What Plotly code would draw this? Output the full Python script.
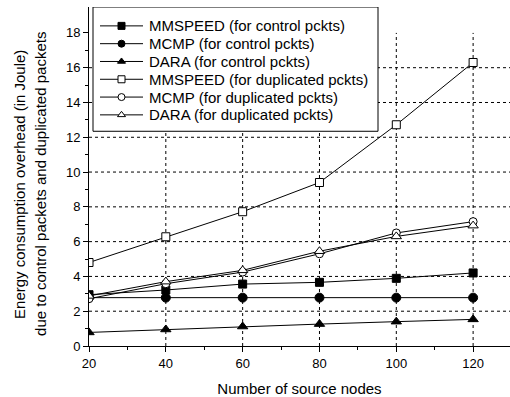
import plotly.graph_objects as go

x_nodes = [20, 40, 60, 80, 100, 120]
mmspeed_ctrl = [2.95, 3.22, 3.56, 3.66, 3.89, 4.2]
mcmp_ctrl = [2.78, 2.78, 2.78, 2.78, 2.78, 2.78]
dara_ctrl = [0.78, 0.95, 1.12, 1.26, 1.4, 1.53]
mmspeed_dup = [4.8, 6.28, 7.72, 9.4, 12.72, 16.3]
mcmp_dup = [2.72, 3.58, 4.25, 5.3, 6.5, 7.15]
dara_dup = [2.88, 3.7, 4.35, 5.45, 6.3, 6.92]

names = ["MMSPEED (for control pckts)", "MCMP (for control pckts)", "DARA (for control pckts)",
         "MMSPEED (for duplicated pckts)", "MCMP (for duplicated pckts)", "DARA (for duplicated pckts)"]
series = [mmspeed_ctrl, mcmp_ctrl, dara_ctrl, mmspeed_dup, mcmp_dup, dara_dup]
symbols = ["square", "circle", "triangle-up", "square", "circle", "triangle-up"]
fills = ["black", "black", "black", "white", "white", "white"]
sizes = [8, 9, 9, 8, 8, 9]

x_ticks = [20, 40, 60, 80, 100, 120]
y_ticks = [0, 2, 4, 6, 8, 10, 12, 14, 16, 18]
x_grid = [40, 60, 80, 100, 120]
y_grid = [2, 4, 6, 8, 10, 12, 14, 16]
x_max = 129.6
y_max = 19.49

fig = go.Figure()
for n, s, sym, f, sz in zip(names, series, symbols, fills, sizes):
    fig.add_trace(go.Scatter(
        x=x_nodes, y=s, name=n, mode="lines+markers", showlegend=False,
        line=dict(color="black", width=1),
        marker=dict(symbol=sym, size=sz, color=f, line=dict(color="black", width=1)),
    ))

shapes = []
for gx in x_grid:
    shapes.append(dict(type="line", xref="x", yref="y", x0=gx, x1=gx, y0=0, y1=18,
                       line=dict(color="black", width=1, dash="dot"), layer="below"))
for gy in y_grid:
    shapes.append(dict(type="line", xref="x", yref="y", x0=20, x1=x_max, y0=gy, y1=gy,
                       line=dict(color="black", width=1, dash="dot"), layer="below"))

# custom legend (overlay axes in pixel units)
leg_left, leg_right, leg_top, leg_bottom = 93, 378, 7, 132
shapes.append(dict(type="rect", xref="x2", yref="y2", x0=leg_left, x1=leg_right,
                   y0=leg_top, y1=leg_bottom, fillcolor="white",
                   line=dict(color="black", width=1), layer="below"))
annotations = []
for i, (n, sym, f) in enumerate(zip(names, symbols, fills)):
    yy = 26 + 17.9 * i
    fig.add_trace(go.Scatter(
        x=[100, 143], y=[yy, yy], xaxis="x2", yaxis="y2", mode="lines", showlegend=False,
        line=dict(color="black", width=1), hoverinfo="skip"))
    fig.add_trace(go.Scatter(
        x=[121.5], y=[yy], xaxis="x2", yaxis="y2", mode="markers", showlegend=False,
        marker=dict(symbol=sym, size=7, color=f, line=dict(color="black", width=1)),
        hoverinfo="skip"))
    annotations.append(dict(xref="x2", yref="y2", x=147, y=yy, text=n, showarrow=False,
                            xanchor="left", yanchor="middle", font=dict(size=15)))

annotations.append(dict(xref="paper", yref="paper", x=(20 - 89) / 421, y=(348 - 186) / 341,
                        text="Energy consumption overhead (in Joule)",
                        textangle=-90, showarrow=False, xanchor="center", yanchor="middle",
                        font=dict(size=15)))
annotations.append(dict(xref="paper", yref="paper", x=(41 - 89) / 421, y=(348 - 185) / 341,
                        text="due to control packets and duplicated packets",
                        textangle=-90, showarrow=False, xanchor="center", yanchor="middle",
                        font=dict(size=15)))

fig.update_layout(
    width=510, height=397,
    margin=dict(l=89, r=0, t=7, b=49),
    paper_bgcolor="white", plot_bgcolor="white",
    font=dict(family="Liberation Sans, Arial, sans-serif", size=13, color="black"),
    shapes=shapes, annotations=annotations,
    showlegend=False,
    xaxis=dict(range=[20, x_max], tickvals=x_ticks,
               showgrid=False, zeroline=False, showline=True, linecolor="black", linewidth=1,
               ticks="outside", ticklen=5, tickcolor="black",
               minor=dict(tickvals=[30, 50, 70, 90, 110], ticks="outside", ticklen=3, tickcolor="black"),
               title=dict(text="Number of source nodes", font=dict(size=15), standoff=16)),
    yaxis=dict(range=[0, y_max], tickvals=y_ticks,
               showgrid=False, zeroline=False, showline=True, linecolor="black", linewidth=1,
               ticks="outside", ticklen=5, tickcolor="black",
               minor=dict(tickvals=[1, 3, 5, 7, 9, 11, 13, 15, 17], ticks="outside", ticklen=3, tickcolor="black")),
    xaxis2=dict(range=[89, 510], overlaying="x", anchor="y2", visible=False, fixedrange=True),
    yaxis2=dict(range=[348, 7], overlaying="y", anchor="x2", visible=False, fixedrange=True),
)

fig.write_html("out.html", config={"displayModeBar": False})
